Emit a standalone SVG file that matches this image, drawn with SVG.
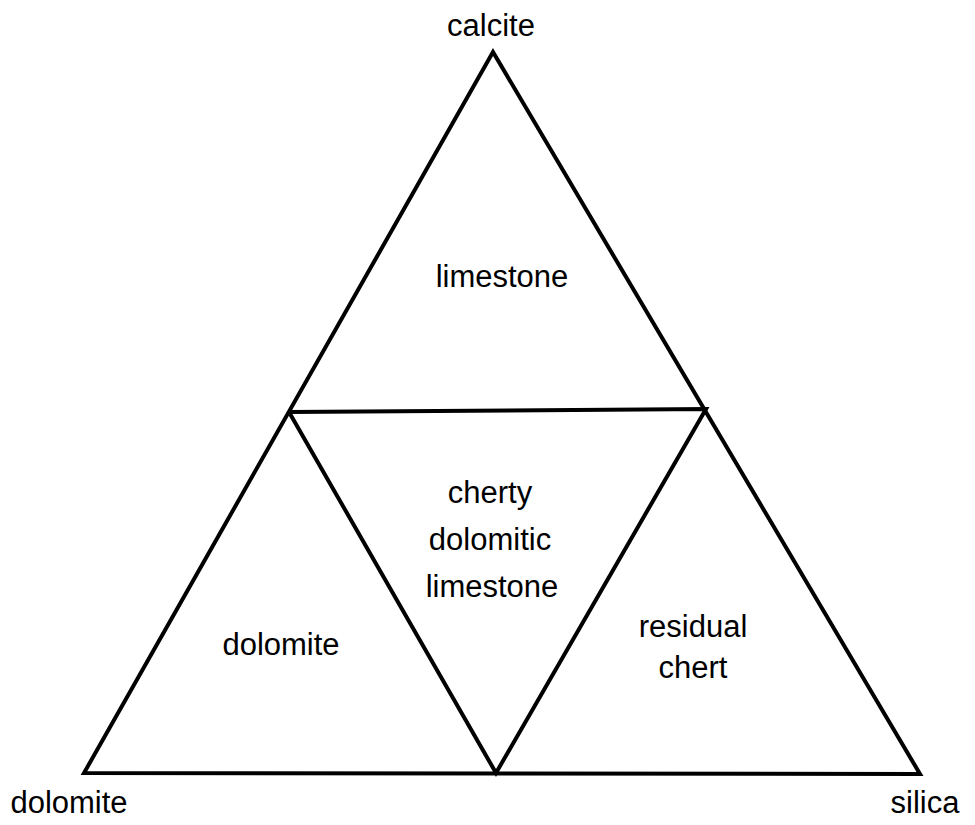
<svg xmlns="http://www.w3.org/2000/svg" width="975" height="825" viewBox="0 0 975 825">
<style>
.ln{fill:none;stroke:#000;stroke-width:4;stroke-linejoin:miter;stroke-linecap:butt}
text{font-family:"Liberation Sans",Arial,sans-serif;font-size:31px;fill:#000;text-anchor:middle}
</style>
<rect width="975" height="825" fill="#fff"/>
<g id="connectors">
<polygon class="ln" points="493,52 84,773 920,774"/>
<polyline class="ln" points="289,412 706,409 496,773 289,412"/>
</g>
<g id="vertex-calcite"><text x="491" y="36">calcite</text></g>
<g id="vertex-dolomite"><text x="69" y="813">dolomite</text></g>
<g id="vertex-silica"><text x="925" y="813">silica</text></g>
<g id="region-limestone"><text x="502" y="287">limestone</text></g>
<g id="region-dolomite"><text x="281" y="655">dolomite</text></g>
<g id="region-cherty"><text x="490" y="503">cherty</text><text x="490" y="550">dolomitic</text><text x="492" y="597">limestone</text></g>
<g id="region-residual"><text x="693" y="637">residual</text><text x="693" y="678">chert</text></g>
</svg>
